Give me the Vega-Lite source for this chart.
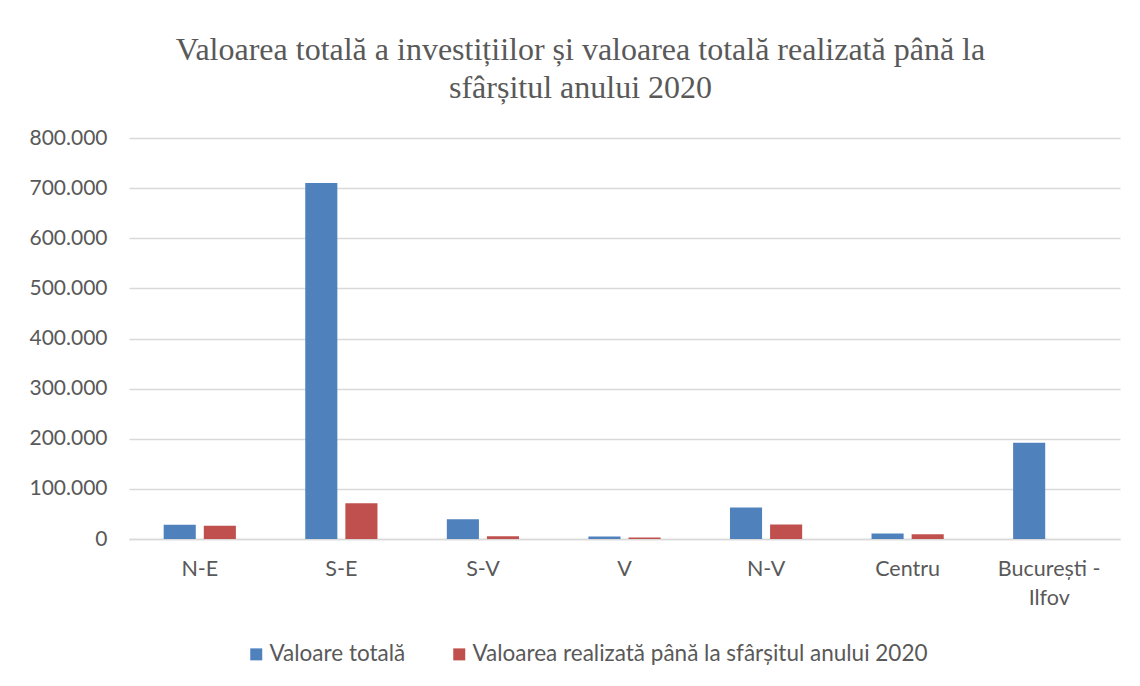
{
  "$schema": "https://vega.github.io/schema/vega-lite/v6.json",
  "width": 991,
  "height": 401,
  "autosize": "none",
  "padding": {"left": 129, "top": 138, "right": 20, "bottom": 147},
  "background": "white",
  "title": {
    "text": ["Valoarea totală a investițiilor și valoarea totală realizată până la", "sfârșitul anului 2020"],
    "font": "Liberation Serif",
    "fontSize": 32,
    "fontWeight": "normal",
    "color": "#595959",
    "lineHeight": 38,
    "anchor": "middle",
    "dx": -44,
    "offset": 22
  },
  "data": {
    "values": [
      {"regiune": "N-E", "serie": "Valoare totală", "valoare": 28400},
      {"regiune": "N-E", "serie": "Valoarea realizată până la sfârșitul anului 2020", "valoare": 26400},
      {"regiune": "S-E", "serie": "Valoare totală", "valoare": 710000},
      {"regiune": "S-E", "serie": "Valoarea realizată până la sfârșitul anului 2020", "valoare": 71500},
      {"regiune": "S-V", "serie": "Valoare totală", "valoare": 39600},
      {"regiune": "S-V", "serie": "Valoarea realizată până la sfârșitul anului 2020", "valoare": 5600},
      {"regiune": "V", "serie": "Valoare totală", "valoare": 5000},
      {"regiune": "V", "serie": "Valoarea realizată până la sfârșitul anului 2020", "valoare": 3000},
      {"regiune": "N-V", "serie": "Valoare totală", "valoare": 62900},
      {"regiune": "N-V", "serie": "Valoarea realizată până la sfârșitul anului 2020", "valoare": 29000},
      {"regiune": "Centru", "serie": "Valoare totală", "valoare": 11000},
      {"regiune": "Centru", "serie": "Valoarea realizată până la sfârșitul anului 2020", "valoare": 9600},
      {"regiune": "București - Ilfov", "serie": "Valoare totală", "valoare": 192000},
      {"regiune": "București - Ilfov", "serie": "Valoarea realizată până la sfârșitul anului 2020", "valoare": 0}
    ]
  },
  "mark": {"type": "bar"},
  "encoding": {
    "x": {
      "field": "regiune",
      "type": "nominal",
      "sort": ["N-E", "S-E", "S-V", "V", "N-V", "Centru", "București - Ilfov"],
      "scale": {"paddingInner": 0.49, "paddingOuter": 0.245},
      "axis": {
        "title": null,
        "labelAngle": 0,
        "labelFont": "Lato",
        "labelFontSize": 21.5,
        "labelColor": "#595959",
        "labelPadding": 19,
        "labelLineHeight": 29,
        "labelOverlap": false,
        "labelExpr": "datum.label == 'București - Ilfov' ? ['București -', 'Ilfov'] : datum.label",
        "ticks": false,
        "domainColor": "#D9D9D9",
        "domainWidth": 1.5,
        "grid": false
      }
    },
    "xOffset": {
      "field": "serie",
      "type": "nominal",
      "sort": ["Valoare totală", "Valoarea realizată până la sfârșitul anului 2020"],
      "scale": {"paddingInner": 0.2}
    },
    "y": {
      "field": "valoare",
      "type": "quantitative",
      "scale": {"domain": [0, 800000]},
      "axis": {
        "title": null,
        "values": [0, 100000, 200000, 300000, 400000, 500000, 600000, 700000, 800000],
        "labelExpr": "replace(format(datum.value, ','), /,/g, '.')",
        "labelOverlap": false,
        "labelFont": "Lato",
        "labelFontSize": 21,
        "labelColor": "#595959",
        "labelPadding": 22,
        "ticks": false,
        "domain": false,
        "grid": true,
        "gridColor": "#D9D9D9",
        "gridWidth": 1.5
      }
    },
    "color": {
      "field": "serie",
      "type": "nominal",
      "sort": ["Valoare totală", "Valoarea realizată până la sfârșitul anului 2020"],
      "scale": {"range": ["#4F81BD", "#C0504D"]},
      "legend": {
        "title": null,
        "orient": "none",
        "legendX": 116,
        "legendY": 505,
        "direction": "horizontal",
        "symbolType": "square",
        "symbolSize": 144,
        "symbolStrokeWidth": 0,
        "labelFont": "Lato",
        "labelFontSize": 22.5,
        "labelColor": "#595959",
        "labelLimit": 700,
        "labelOffset": 2,
        "columnPadding": 42
      }
    }
  },
  "config": {
    "view": {"stroke": null}
  }
}
